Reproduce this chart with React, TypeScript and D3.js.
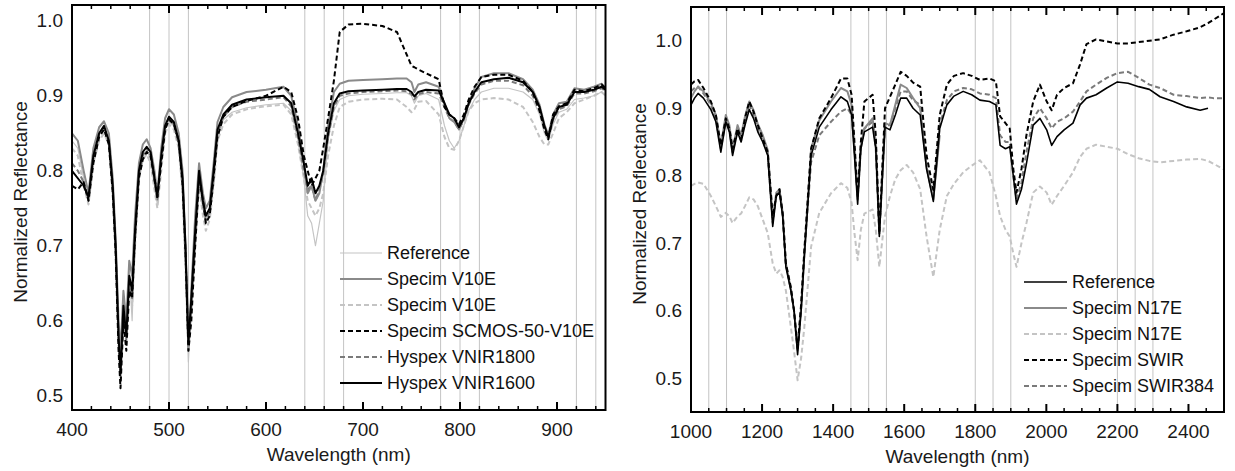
import React from 'react';
import * as d3 from 'd3';

// ---------------- VIS-NIR panel data ----------------
const wlVis = [
  400, 406, 412, 417, 422,
  428, 433, 438, 442, 445,
  448, 450, 453, 456, 459,
  462, 465, 469, 473, 477,
  481, 485, 488, 492, 496,
  500, 505, 510, 514, 517,
  520, 523, 527, 531, 535,
  538, 542, 546, 550, 556,
  565, 580, 600, 618, 626,
  633, 639, 643, 647, 651,
  655, 659, 664, 670, 676,
  685, 700, 720, 735, 745,
  750, 753, 757, 765, 778,
  784, 789, 794, 799, 804,
  809, 815, 822, 835, 850,
  865, 875, 882, 887, 891,
  896, 902, 910, 918, 928,
  938, 946, 950,
];

const visReference = [
  0.84, 0.83, 0.79, 0.76, 0.82,
  0.85, 0.858, 0.84, 0.78, 0.70,
  0.59, 0.55, 0.63, 0.59, 0.67,
  0.60, 0.72, 0.80, 0.82, 0.828,
  0.815, 0.78, 0.755, 0.81, 0.855,
  0.865, 0.86, 0.835, 0.78, 0.68,
  0.545, 0.62, 0.72, 0.79, 0.75,
  0.73, 0.745, 0.79, 0.845, 0.868,
  0.878, 0.884, 0.888, 0.89, 0.88,
  0.84, 0.79, 0.74, 0.73, 0.70,
  0.73, 0.76, 0.84, 0.88, 0.895,
  0.90, 0.902, 0.903, 0.904, 0.904,
  0.90, 0.89, 0.90, 0.903, 0.895,
  0.86, 0.84, 0.83, 0.84, 0.86,
  0.88, 0.895, 0.905, 0.91, 0.91,
  0.905, 0.895, 0.875, 0.85, 0.84,
  0.862, 0.878, 0.882, 0.895, 0.897,
  0.90, 0.905, 0.90,
];

const visV10E = [
  0.85, 0.84, 0.80, 0.77, 0.83,
  0.858, 0.866, 0.85, 0.79, 0.71,
  0.60, 0.56, 0.64, 0.60, 0.68,
  0.66, 0.74, 0.81, 0.835, 0.842,
  0.83, 0.80, 0.77, 0.83, 0.87,
  0.882, 0.875, 0.85, 0.80, 0.70,
  0.56, 0.64, 0.74, 0.81, 0.77,
  0.75, 0.76, 0.81, 0.865, 0.885,
  0.898, 0.905, 0.908, 0.912, 0.90,
  0.86, 0.81, 0.77, 0.78, 0.76,
  0.77, 0.80, 0.86, 0.905, 0.916,
  0.92, 0.921, 0.922, 0.923, 0.923,
  0.918, 0.905, 0.915, 0.918, 0.912,
  0.89, 0.87, 0.865, 0.855, 0.87,
  0.89, 0.91, 0.925, 0.93, 0.93,
  0.922, 0.908, 0.888, 0.862, 0.848,
  0.875, 0.89, 0.892, 0.91, 0.908,
  0.912, 0.916, 0.91,
];

const visV10Eb = [
  0.83, 0.82, 0.78, 0.755, 0.81,
  0.84, 0.85, 0.835, 0.77, 0.69,
  0.58, 0.55, 0.62, 0.58, 0.66,
  0.62, 0.70, 0.79, 0.815, 0.822,
  0.81, 0.775, 0.75, 0.80, 0.85,
  0.862, 0.855, 0.83, 0.77, 0.67,
  0.56, 0.61, 0.70, 0.78, 0.74,
  0.72, 0.735, 0.78, 0.84, 0.862,
  0.875, 0.882, 0.886, 0.888, 0.875,
  0.835, 0.79, 0.76, 0.75, 0.74,
  0.75, 0.77, 0.82, 0.86, 0.885,
  0.892, 0.895, 0.896, 0.895, 0.885,
  0.878, 0.882, 0.892, 0.893, 0.875,
  0.845, 0.83, 0.828, 0.84, 0.86,
  0.88, 0.89, 0.895, 0.897, 0.895,
  0.885, 0.865, 0.845, 0.835, 0.835,
  0.85, 0.87, 0.878, 0.89, 0.895,
  0.90, 0.905, 0.90,
];

const visSCMOS = [
  0.78, 0.775, 0.785, 0.76, 0.81,
  0.845, 0.855, 0.835, 0.77, 0.69,
  0.56, 0.51, 0.60, 0.56, 0.64,
  0.63, 0.71, 0.79, 0.815, 0.825,
  0.82, 0.79, 0.765, 0.81, 0.855,
  0.868, 0.862, 0.84, 0.78, 0.69,
  0.56, 0.60, 0.70, 0.79, 0.76,
  0.73, 0.74, 0.79, 0.845, 0.872,
  0.885, 0.893, 0.90, 0.912, 0.905,
  0.87, 0.82, 0.80, 0.78, 0.79,
  0.80, 0.83, 0.87, 0.92, 0.985,
  0.995, 0.996, 0.993, 0.985, 0.955,
  0.94, 0.938, 0.935, 0.93, 0.922,
  0.885, 0.875, 0.87, 0.862, 0.875,
  0.895, 0.912, 0.925, 0.928, 0.928,
  0.92, 0.905, 0.88, 0.855, 0.842,
  0.875, 0.886, 0.89, 0.908, 0.906,
  0.91, 0.915, 0.91,
];

const visVNIR1800 = [
  0.81, 0.80, 0.785, 0.76, 0.815,
  0.848, 0.858, 0.838, 0.775, 0.695,
  0.57, 0.525, 0.61, 0.575, 0.65,
  0.63, 0.71, 0.795, 0.82, 0.83,
  0.82, 0.785, 0.76, 0.815, 0.858,
  0.87, 0.862, 0.835, 0.785, 0.69,
  0.565, 0.62, 0.71, 0.795, 0.755,
  0.735, 0.745, 0.795, 0.85, 0.872,
  0.885, 0.892, 0.895, 0.898, 0.886,
  0.845, 0.80, 0.775, 0.78, 0.76,
  0.775, 0.795, 0.845, 0.885, 0.90,
  0.903, 0.905, 0.906, 0.907, 0.906,
  0.902, 0.895, 0.902, 0.905, 0.903,
  0.885, 0.87, 0.865, 0.855, 0.868,
  0.888, 0.903, 0.915, 0.92, 0.92,
  0.914, 0.90, 0.88, 0.857, 0.843,
  0.868, 0.882, 0.886, 0.903, 0.903,
  0.906, 0.91, 0.906,
];

const visVNIR1600 = [
  0.80, 0.79, 0.78, 0.765, 0.82,
  0.85, 0.86, 0.84, 0.78, 0.70,
  0.58, 0.53, 0.62, 0.58, 0.66,
  0.64, 0.72, 0.80, 0.825, 0.832,
  0.825, 0.79, 0.765, 0.82, 0.86,
  0.872, 0.865, 0.84, 0.79, 0.70,
  0.57, 0.63, 0.72, 0.80, 0.76,
  0.74, 0.75, 0.80, 0.855, 0.875,
  0.888, 0.895, 0.898, 0.90, 0.89,
  0.85, 0.81, 0.78, 0.79, 0.77,
  0.78, 0.80, 0.85, 0.89, 0.903,
  0.906, 0.907, 0.908, 0.909, 0.909,
  0.905, 0.899, 0.905, 0.908, 0.907,
  0.89, 0.875, 0.87, 0.858, 0.87,
  0.89, 0.905, 0.918, 0.922, 0.924,
  0.918, 0.905, 0.885, 0.86, 0.845,
  0.87, 0.885, 0.888, 0.905, 0.905,
  0.908, 0.912, 0.908,
];

const visGuides = [480, 500, 520, 640, 660, 680, 780, 800, 820, 920, 940];
const visLabels = ['Reference', 'Specim V10E', 'Specim V10E', 'Specim SCMOS-50-V10E', 'Hyspex VNIR1800', 'Hyspex VNIR1600'];

// ---------------- SWIR panel data ----------------
const wlSwir = [
  1000, 1010, 1020, 1035, 1056,
  1070, 1084, 1098, 1108, 1117,
  1131, 1141, 1152, 1164, 1176,
  1188, 1202, 1216, 1230, 1240,
  1249, 1258, 1267, 1281, 1290,
  1300, 1310, 1319, 1338, 1361,
  1394, 1422, 1440, 1452, 1460,
  1469, 1478, 1488, 1511, 1520,
  1530, 1546, 1560, 1575, 1590,
  1607, 1625, 1645, 1663, 1682,
  1700, 1720, 1740, 1766, 1790,
  1813, 1840, 1858, 1870, 1885,
  1897, 1907, 1916, 1930, 1944,
  1963, 1982, 2001, 2015, 2030,
  2050, 2075, 2095, 2113, 2140,
  2170, 2200, 2230, 2260, 2290,
  2320, 2358, 2395, 2433, 2455,
  2470, 2500,
];

const swirReference = [
  0.905, 0.915, 0.922, 0.915, 0.898,
  0.88, 0.835, 0.88, 0.865, 0.83,
  0.865, 0.85, 0.875, 0.898, 0.885,
  0.865, 0.85, 0.83, 0.725, 0.77,
  0.775, 0.74, 0.665, 0.63, 0.60,
  0.535, 0.60, 0.68, 0.83, 0.872,
  0.898, 0.917, 0.91, 0.89, 0.83,
  0.758, 0.84, 0.865, 0.872, 0.84,
  0.71, 0.872, 0.868, 0.89, 0.915,
  0.915, 0.90, 0.89, 0.81, 0.762,
  0.87, 0.905, 0.918, 0.925, 0.92,
  0.912, 0.91, 0.905, 0.845, 0.84,
  0.843, 0.80, 0.758, 0.78, 0.818,
  0.875, 0.885, 0.868, 0.845, 0.858,
  0.868, 0.878, 0.905, 0.915, 0.92,
  0.93, 0.939, 0.937, 0.932, 0.928,
  0.917, 0.91, 0.902, 0.897, 0.90,
  null, null,
];

const swirN17E = [
  0.915, 0.925, 0.932, 0.925, 0.908,
  0.89, 0.845, 0.89, 0.875, 0.84,
  0.875, 0.86, 0.888, 0.91, 0.897,
  0.877, 0.86, 0.838, 0.735, 0.775,
  0.78, 0.745, 0.67, 0.632, 0.60,
  0.545, 0.605, 0.685, 0.84, 0.882,
  0.91, 0.93, 0.925, 0.905, 0.84,
  0.77, 0.845, 0.87, 0.885, 0.85,
  0.72, 0.878, 0.875, 0.905, 0.935,
  0.93, 0.915, 0.90, 0.812, 0.765,
  0.86, null, null, null, null,
  null, null, null, null, null,
  null, null, null, null, null,
  null, null, null, null, null,
  null, null, null, null, null,
  null, null, null, null, null,
  null, null, null, null, null,
  null, null,
];

const swirN17Eb = [
  0.785, 0.788, 0.79, 0.788, 0.77,
  0.755, 0.739, 0.745, 0.74, 0.73,
  0.74, 0.744, 0.755, 0.768, 0.765,
  0.755, 0.735, 0.715, 0.67, 0.655,
  0.66, 0.65, 0.63, 0.576, 0.54,
  0.497, 0.53, 0.576, 0.695, 0.745,
  0.774, 0.789, 0.782, 0.76, 0.715,
  0.675, 0.72, 0.744, 0.75, 0.72,
  0.665, 0.74, 0.77, 0.795, 0.808,
  0.816, 0.805, 0.78, 0.71, 0.65,
  0.72, 0.77, 0.788, 0.805, 0.815,
  0.823, 0.805, 0.77, 0.74, 0.72,
  0.71, 0.685, 0.665, 0.70, 0.73,
  0.775, 0.784, 0.775, 0.757, 0.77,
  0.785, 0.805, 0.828, 0.84, 0.846,
  0.843, 0.84, 0.832, 0.826, 0.822,
  0.82, 0.822, 0.824, 0.825, 0.822,
  0.818, 0.809,
];

const swirSWIR = [
  0.935, 0.94, 0.942, 0.93, 0.91,
  0.89, 0.845, 0.885, 0.87, 0.84,
  0.87, 0.855, 0.885, 0.91, 0.895,
  0.875, 0.855, 0.835, 0.74, 0.77,
  0.78, 0.745, 0.67, 0.635, 0.60,
  0.545, 0.61, 0.69, 0.84, 0.885,
  0.915, 0.944, 0.944, 0.92, 0.85,
  0.77, 0.85, 0.91, 0.92, 0.86,
  0.715, 0.90, 0.917, 0.935, 0.954,
  0.948, 0.938, 0.932, 0.83, 0.779,
  0.89, 0.935, 0.948, 0.952, 0.948,
  0.942, 0.944, 0.94, 0.888, 0.878,
  0.87, 0.81, 0.775, 0.81, 0.86,
  0.91, 0.935, 0.91, 0.897, 0.92,
  0.93, 0.937, 0.965, 0.995, 1.002,
  0.999, 0.996, 0.996, 0.998, 1.0,
  1.002, 1.009, 1.014, 1.02, 1.026,
  1.031, 1.041,
];

const swirSWIR384 = [
  0.925, 0.93, 0.932, 0.922, 0.905,
  0.885, 0.84, 0.882, 0.868, 0.835,
  0.868, 0.852, 0.88, 0.905, 0.89,
  0.87, 0.852, 0.832, 0.73, 0.772,
  0.778, 0.742, 0.668, 0.632, 0.60,
  0.54, 0.605, 0.685, 0.82, 0.86,
  0.88, 0.895, 0.90, 0.89, 0.84,
  0.765, 0.84, 0.87, 0.88, 0.84,
  0.712, 0.875, 0.875, 0.90, 0.925,
  0.925, 0.912, 0.905, 0.815, 0.77,
  0.875, 0.912, 0.925, 0.93, 0.928,
  0.922, 0.92, 0.915, 0.86, 0.85,
  0.85, 0.80, 0.765, 0.79, 0.835,
  0.885, 0.90, 0.885, 0.87, 0.88,
  0.885, 0.895, 0.91, 0.925, 0.935,
  0.945, 0.952, 0.954, 0.945, 0.935,
  0.93, 0.92, 0.918, 0.915, 0.916,
  0.915, 0.915,
];

const swirGuides = [1050, 1100, 1450, 1500, 1550, 1800, 1850, 1900, 2200, 2250, 2300];
const swirLabels = ['Reference', 'Specim N17E', 'Specim N17E', 'Specim SWIR', 'Specim SWIR384'];

const yTickValues = [0.5, 0.6, 0.7, 0.8, 0.9, 1.0];

// ---------------- styles ----------------
const FONT = "'Liberation Sans', Arial, Helvetica, sans-serif";
const DASH = '5,3';

type Style = { color: string; width: number; dash?: string };
type Series = { values: (number | null)[]; style: Style; label: string };

type PanelProps = {
  left: number; right: number; top: number; bottom: number;
  xDomain: [number, number]; yDomain: [number, number];
  majorStep: number; minorStep: number;
  guides: number[];
  wl: number[];
  series: Series[];        // legend order
  drawOrder: number[];     // indices into series
  legend: { lineX0: number; lineX1: number; textX: number; y0: number; dy: number };
  yTitleY: number;
};

function Panel(p: PanelProps) {
  const x = d3.scaleLinear().domain(p.xDomain).range([p.left, p.right]);
  const y = d3.scaleLinear().domain(p.yDomain).range([p.bottom, p.top]);
  const clipId = `clip-${p.left}`;
  const majors = d3.range(p.xDomain[0], p.xDomain[1] + 0.001, p.majorStep);
  const minors = d3.range(p.xDomain[0], p.xDomain[1] + 0.001, p.minorStep).filter(v => !majors.includes(v));

  const mk = (vals: (number | null)[]) =>
    d3.line<number>()
      .defined((_, i) => vals[i] != null)
      .x((w) => x(w))
      .y((_, i) => y(vals[i] as number))(p.wl) || '';

  const cx = (p.left + p.right) / 2;

  return (
    <g>
      <defs>
        <clipPath id={clipId}>
          <rect x={p.left} y={p.top} width={p.right - p.left} height={p.bottom - p.top} />
        </clipPath>
      </defs>
      {p.guides.map((g) => (
        <line key={`g${g}`} x1={x(g)} x2={x(g)} y1={p.top} y2={p.bottom} stroke="#c4c4c4" strokeWidth={1} />
      ))}
      <g clipPath={`url(#${clipId})`}>
        {p.drawOrder.map((i) => {
          const s = p.series[i];
          return (
            <path key={`s${i}`} d={mk(s.values)} fill="none" stroke={s.style.color}
              strokeWidth={s.style.width} strokeDasharray={s.style.dash}
              strokeLinejoin="round" />
          );
        })}
      </g>
      {/* frame */}
      <rect x={p.left} y={p.top} width={p.right - p.left} height={p.bottom - p.top}
        fill="none" stroke="#000" strokeWidth={2} />
      {/* ticks bottom and top */}
      {majors.map((t) => (
        <g key={`M${t}`}>
          <line x1={x(t)} x2={x(t)} y1={p.bottom} y2={p.bottom - 8} stroke="#000" strokeWidth={2} />
          <line x1={x(t)} x2={x(t)} y1={p.top} y2={p.top + 8} stroke="#000" strokeWidth={2} />
        </g>
      ))}
      {minors.map((t) => (
        <g key={`m${t}`}>
          <line x1={x(t)} x2={x(t)} y1={p.bottom} y2={p.bottom - 4} stroke="#000" strokeWidth={1.5} />
          <line x1={x(t)} x2={x(t)} y1={p.top} y2={p.top + 4} stroke="#000" strokeWidth={1.5} />
        </g>
      ))}
      {majors.filter(t => x(t) < p.right - 5).map((t) => (
        <text key={`xl${t}`} x={x(t)} y={p.bottom + 26} textAnchor="middle" fontSize={19} fontFamily={FONT} fill="#1a1a1a">
          {t}
        </text>
      ))}
      {yTickValues.map((t) => (
        <text key={`yl${t}`} x={p.left - 9} y={y(t)} dy="0.35em" textAnchor="end" fontSize={19} fontFamily={FONT} fill="#1a1a1a">
          {d3.format('.1f')(t)}
        </text>
      ))}
      <text x={cx} y={p.bottom + 51} textAnchor="middle" fontSize={19} fontFamily={FONT} fill="#1a1a1a">
        Wavelength (nm)
      </text>
      <text transform={`translate(${p.left - 45},${p.yTitleY}) rotate(-90)`} textAnchor="middle" fontSize={19} fontFamily={FONT} fill="#1a1a1a">
        Normalized Reflectance
      </text>
      {/* legend */}
      {p.series.map((s, i) => {
        const ly = p.legend.y0 + i * p.legend.dy;
        return (
          <g key={`lg${i}`}>
            <line x1={p.legend.lineX0} x2={p.legend.lineX1} y1={ly} y2={ly} stroke={s.style.color}
              strokeWidth={s.style.width} strokeDasharray={s.style.dash} />
            <text x={p.legend.textX} y={ly} dy="0.36em" fontSize={18} fontFamily={FONT} fill="#111">
              {s.label}
            </text>
          </g>
        );
      })}
    </g>
  );
}

export default function App() {
  const visSeries: Series[] = [
    { values: visReference, label: visLabels[0], style: { color: '#c4c4c4', width: 1.2 } },
    { values: visV10E, label: visLabels[1], style: { color: '#8a8a8a', width: 2 } },
    { values: visV10Eb, label: visLabels[2], style: { color: '#c4c4c4', width: 2, dash: DASH } },
    { values: visSCMOS, label: visLabels[3], style: { color: '#000', width: 2, dash: DASH } },
    { values: visVNIR1800, label: visLabels[4], style: { color: '#7a7a7a', width: 2, dash: DASH } },
    { values: visVNIR1600, label: visLabels[5], style: { color: '#000', width: 2 } },
  ];
  const swirSeries: Series[] = [
    { values: swirReference, label: swirLabels[0], style: { color: '#000', width: 1.6 } },
    { values: swirN17E, label: swirLabels[1], style: { color: '#8a8a8a', width: 2 } },
    { values: swirN17Eb, label: swirLabels[2], style: { color: '#c4c4c4', width: 2, dash: DASH } },
    { values: swirSWIR, label: swirLabels[3], style: { color: '#000', width: 2, dash: DASH } },
    { values: swirSWIR384, label: swirLabels[4], style: { color: '#7a7a7a', width: 2, dash: DASH } },
  ];

  return (
    <svg width={1235} height={471} style={{ position: 'absolute', left: 0, top: 0, background: '#fff' }}>
      <rect x={0} y={0} width={1235} height={471} fill="#fff" />
      <Panel
        left={72} right={605.5} top={5} bottom={410}
        xDomain={[400, 950]} yDomain={[0.481, 1.021]}
        majorStep={100} minorStep={20}
        guides={visGuides} wl={wlVis} series={visSeries}
        drawOrder={[0, 2, 4, 1, 3, 5]}
        legend={{ lineX0: 340, lineX1: 382, textX: 387, y0: 253, dy: 26 }}
        yTitleY={202}
      />
      <Panel
        left={691} right={1224} top={7} bottom={412}
        xDomain={[1000, 2500]} yDomain={[0.45, 1.05]}
        majorStep={200} minorStep={50}
        guides={swirGuides} wl={wlSwir} series={swirSeries}
        drawOrder={[2, 4, 1, 3, 0]}
        legend={{ lineX0: 1024, lineX1: 1067, textX: 1072, y0: 282, dy: 26 }}
        yTitleY={204}
      />
    </svg>
  );
}
